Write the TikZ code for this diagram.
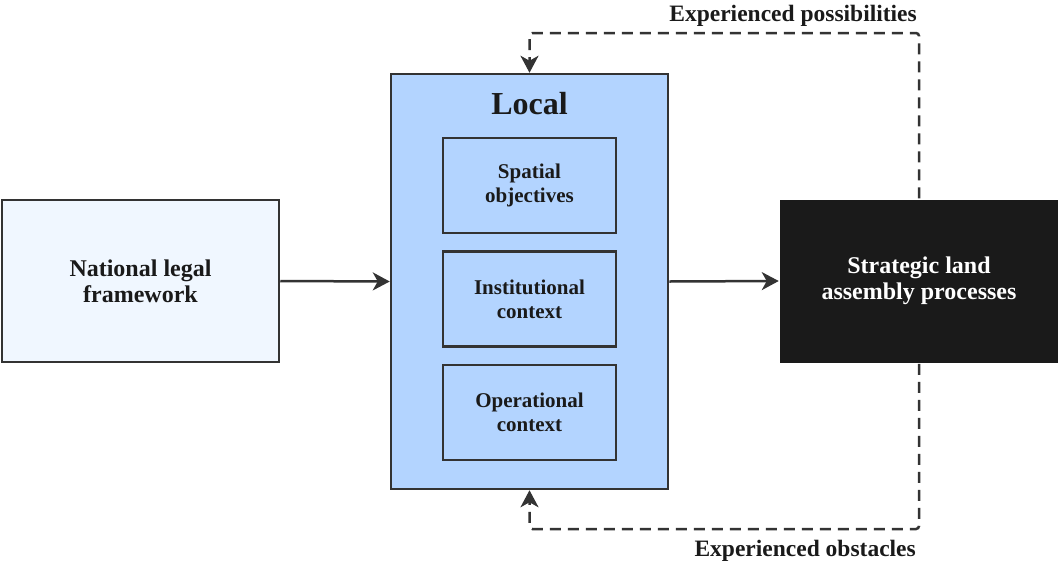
\documentclass[tikz,border=0pt]{standalone}
\usepackage{fontspec}
\setmainfont{Liberation Serif}
\usepackage{xcolor}
\usetikzlibrary{arrows.meta, positioning}
\definecolor{edgegray}{RGB}{51,51,51}
\definecolor{paleblue}{RGB}{240,247,255}
\definecolor{localblue}{RGB}{179,212,255}
\definecolor{nearblack}{RGB}{26,26,26}

\begin{document}
\begin{tikzpicture}[x=1pt, y=-1pt,
  box/.style={rectangle, draw=edgegray, line width=2.5pt, align=center,
    font=\fontsize{24}{26}\selectfont\bfseries, text=nearblack},
  inner/.style={box, minimum width=173pt, minimum height=95pt,
    fill=localblue, font=\fontsize{21}{24}\selectfont\bfseries},
  arr/.style={-{Stealth[length=17pt, width=18pt, inset=5pt]}, line width=2.5pt, draw=edgegray},
  fb/.style={arr, dash pattern=on 11pt off 7pt, rounded corners=3pt},
  lbl/.style={font=\fontsize{23.5}{26}\selectfont\bfseries, text=nearblack, inner sep=0pt}
]
\useasboundingbox (0,0) rectangle (1058,563);

\node[box, fill=paleblue, minimum width=277pt, minimum height=162pt] (national)
  at (140.5,281) {National legal\\framework};

\node[box, fill=localblue, minimum width=277pt, minimum height=415pt] (local)
  at (529.5,281.5) {};
\node[font=\fontsize{32}{36}\selectfont\bfseries, text=nearblack] (localtitle)
  at (529.5,104) {Local};

\node[inner] (spatial) at (529.5,185.5) {Spatial\\objectives};
\node[inner] (institutional) at (529.5,299) {Institutional\\context};
\node[inner] (operational) at (529.5,412.5) {Operational\\context};

\node[box, draw=none, fill=nearblack, text=white, minimum width=278pt, minimum height=163pt] (strategic)
  at (919,281) {Strategic land\\assembly processes};

\foreach \f/\t in {national/local, local/strategic}
  \draw[arr] (\f.east) -- (\t.west);

% feedback loops
\coordinate (toprun) at (529.5,33);
\coordinate (botrun) at (529.5,529);
\draw[fb] (strategic.north) |- (toprun) -- (local.north);
\draw[fb] (strategic.south) |- (botrun) -- (local.south);

\node[lbl, anchor=base east] (possib) at (917,21) {Experienced possibilities};
\node[lbl, anchor=base east] (obst) at (916,556) {Experienced obstacles};
\end{tikzpicture}
\end{document}
